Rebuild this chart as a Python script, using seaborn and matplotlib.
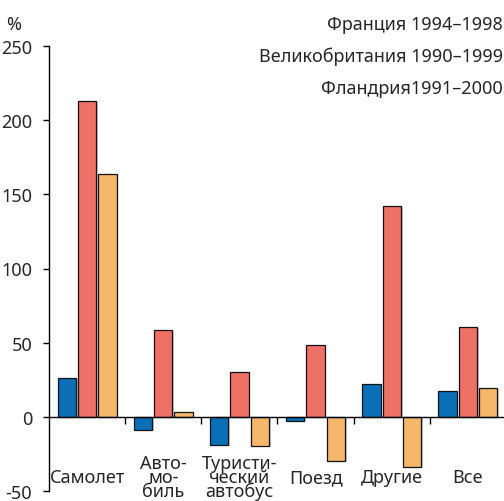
"""Growth of passenger traffic by transport mode, three regions."""

import matplotlib
matplotlib.use("Agg")
import matplotlib.pyplot as plt
import matplotlib.patheffects as pe
import pandas as pd
import seaborn as sns

categories = ["Самолет", "Авто-\nмо-\nбиль", "Туристи-\nческий\nавтобус", "Поезд", "Другие", "Все"]
series = ["Франция 1994–1998", "Великобритания 1990–1999", "Фландрия1991–2000"]
france = [26, -9, -19, -3, 22, 17.5]
britain = [213, 58.5, 30.5, 48.5, 142, 60.5]
flanders = [163.5, 3, -19.5, -29.5, -34, 19.5]
colors = ["#0a6fb7", "#ee7167", "#f6b66b"]
yticks = [-50, 0, 50, 100, 150, 200, 250]

sns.set_theme(style="white")
plt.rcParams["font.family"] = ["Noto Sans", "DejaVu Sans"]

rows = []
for name, vals in zip(series, [france, britain, flanders]):
    for cat, v in zip(categories, vals):
        rows.append({"cat": cat, "series": name, "value": v})
df = pd.DataFrame(rows)

fig = plt.figure(figsize=(5.04, 5.02), dpi=100)
ax = fig.add_axes([49 / 504, 10 / 502, 457 / 504, 445 / 502])

sns.barplot(
    data=df, x="cat", y="value", hue="series", order=categories,
    hue_order=series, palette=colors, saturation=1, width=0.8, gap=0.1,
    edgecolor="#111111", linewidth=0.9, legend=False, ax=ax,
)
for p in ax.patches:
    p.set_path_effects([
        pe.SimplePatchShadow(offset=(1.2, -0.8), shadow_rgbFace="#999999", alpha=0.5),
        pe.Normal(),
    ])

ax.set_xlim(-0.5, 5.5)
ax.set_ylim(-50, 250)
ax.set_yticks(yticks)
ax.set_yticklabels([str(t) for t in yticks], fontsize=13)
ax.set_xlabel("")
ax.set_ylabel("")

for side in ["top", "right"]:
    ax.spines[side].set_visible(False)
ax.spines["bottom"].set_position(("data", 0))
for side in ["left", "bottom"]:
    ax.spines[side].set_color("black")
    ax.spines[side].set_linewidth(1.0)

ax.set_xticks([i + 0.5 for i in range(len(categories) - 1)])
ax.set_xticklabels([])
ax.tick_params(axis="x", direction="out", length=5, width=1, color="black", bottom=True)
ax.tick_params(axis="y", direction="out", length=4, width=1, color="black", left=True, pad=8)

for i, cat in enumerate(categories):
    ax.text(i, -40.5, cat, ha="center", va="center", fontsize=13, linespacing=0.72)

fig.text(6 / 504, 1 - 25 / 502, "%", ha="left", va="center", fontsize=13)
for k, name in enumerate(series):
    fig.text(503 / 504, 1 - (25 + 32 * k) / 502, name, ha="right", va="center", fontsize=13)

fig.savefig("out.png", dpi=100)
plt.close(fig)
